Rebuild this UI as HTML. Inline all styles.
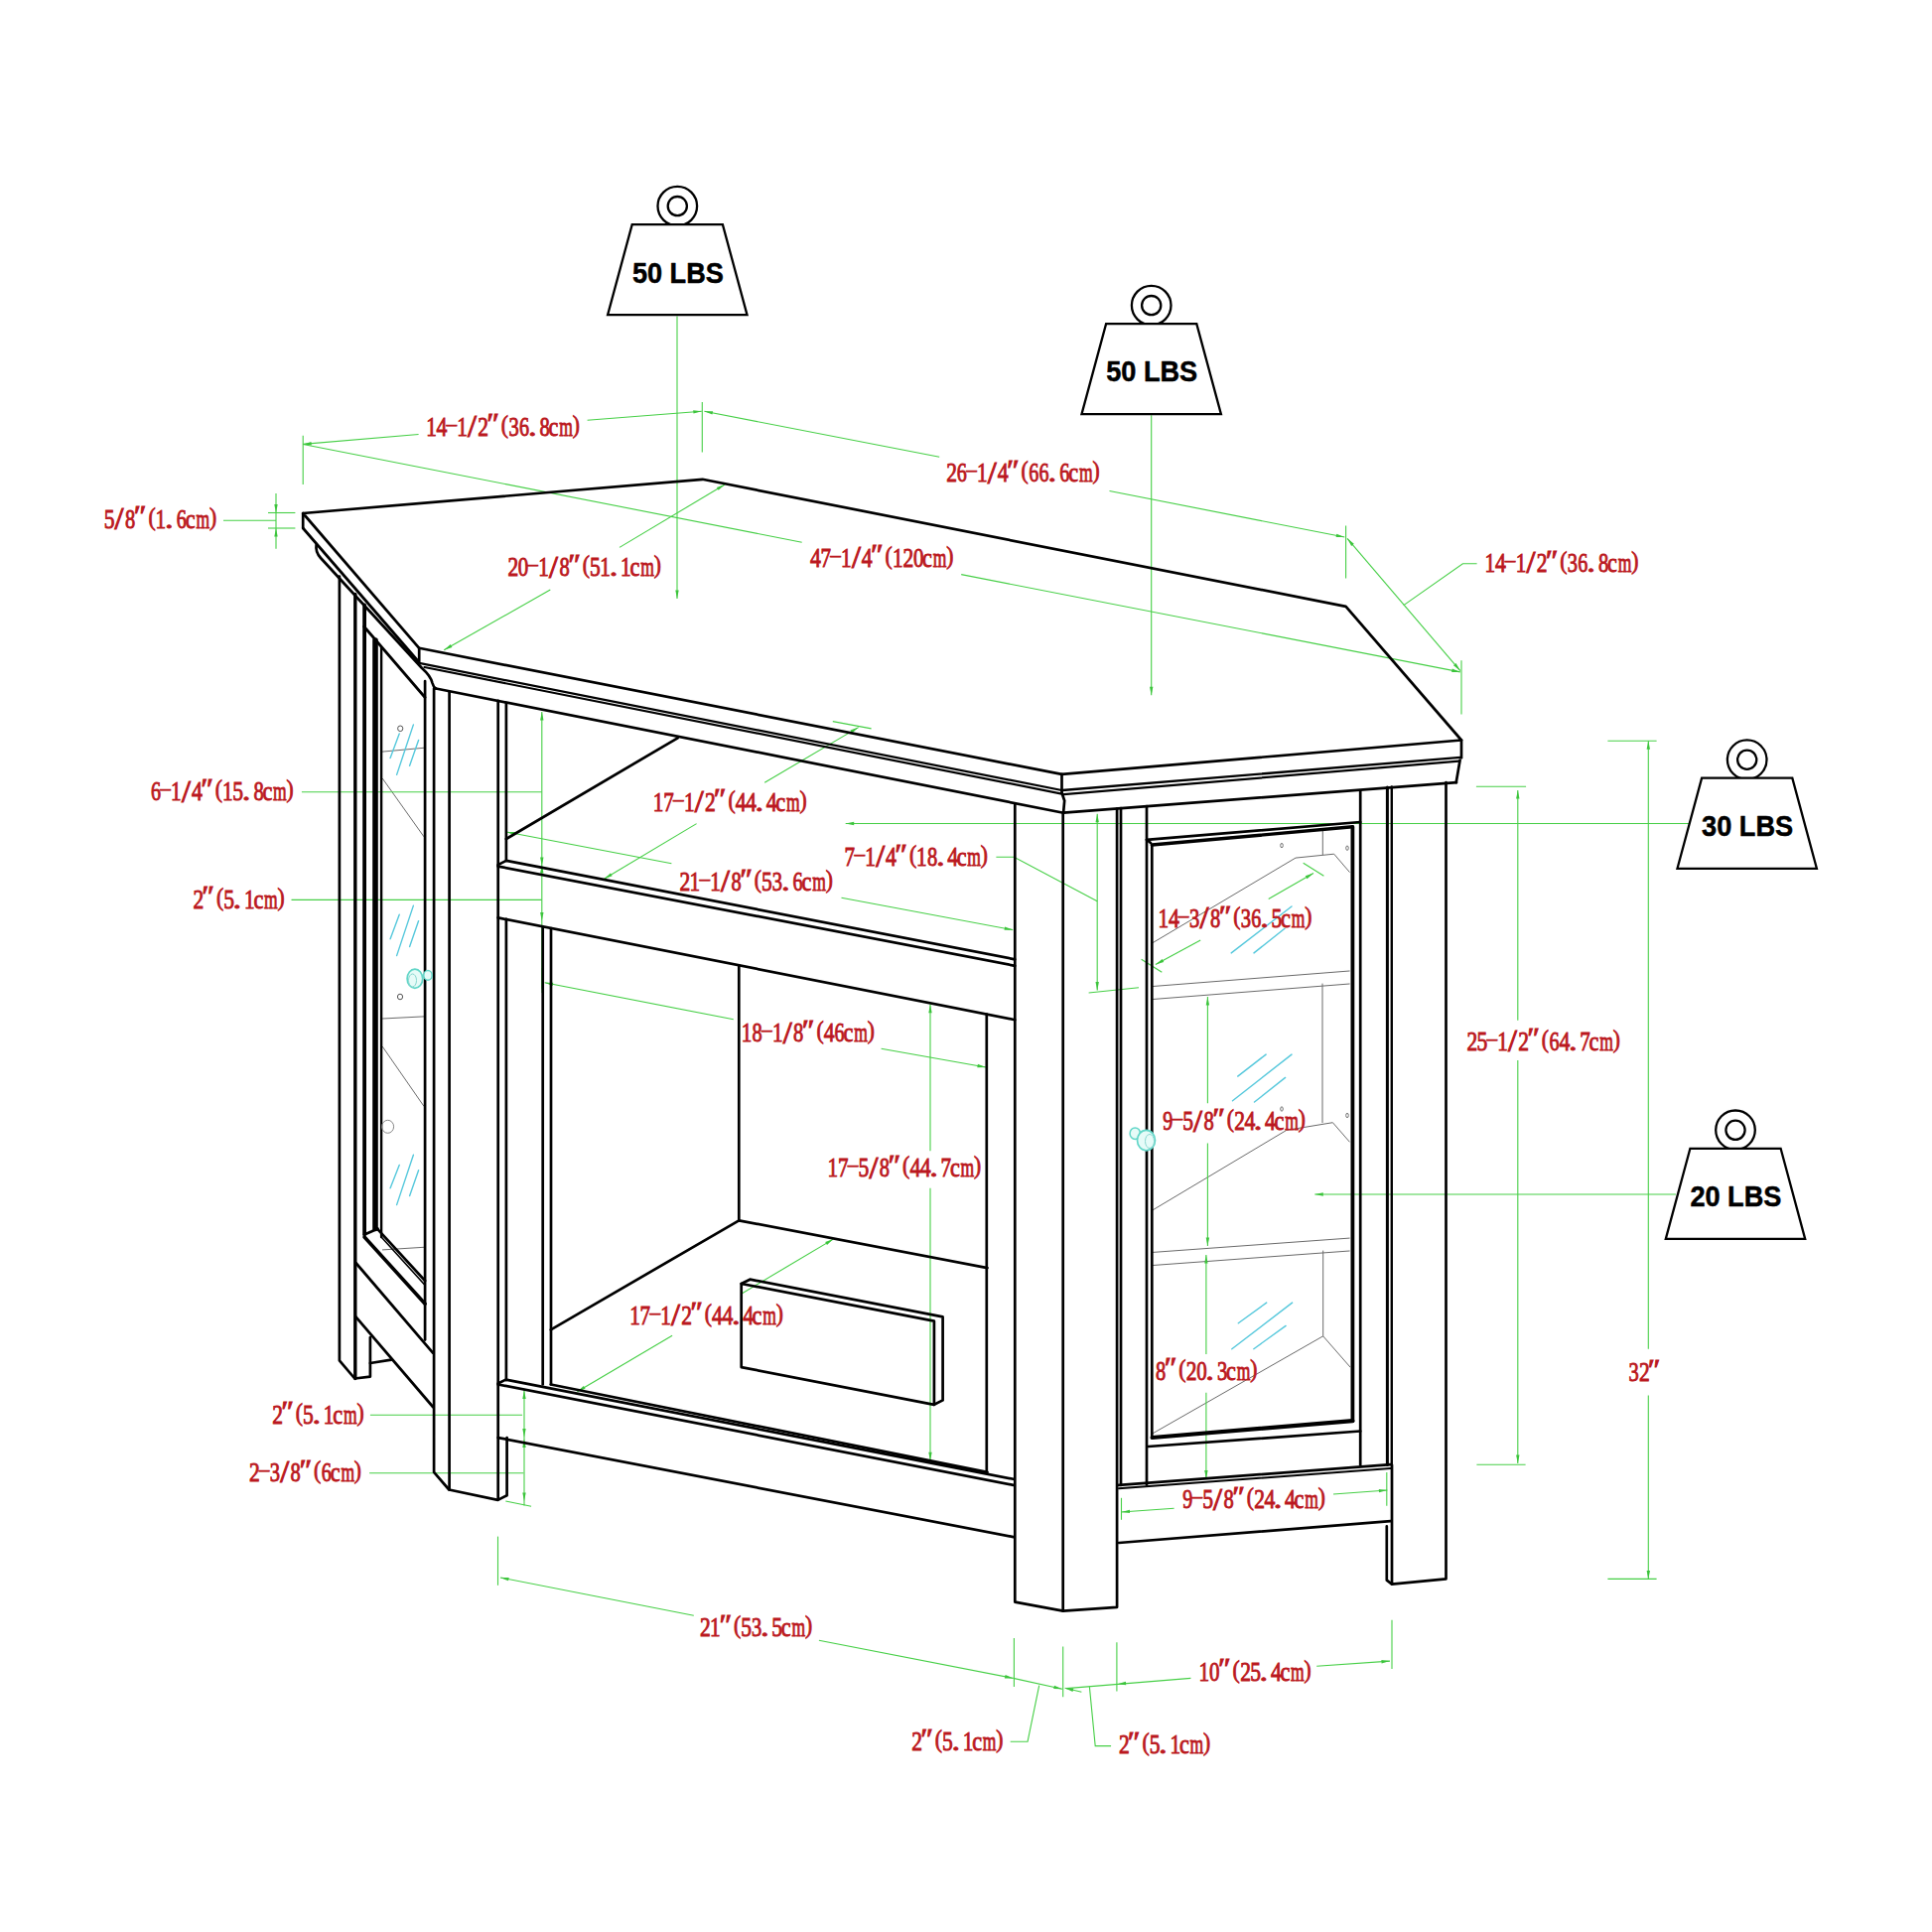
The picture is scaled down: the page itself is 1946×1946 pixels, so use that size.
<!DOCTYPE html><html><head><meta charset="utf-8"><style>html,body{margin:0;padding:0;background:#fff;overflow:hidden}svg{display:block}</style></head><body>
<svg width="1946" height="1946" viewBox="0 0 1946 1946">
<rect width="1946" height="1946" fill="#fff"/>
<g fill="none" stroke="#6a6a6a" stroke-linecap="round" stroke-linejoin="round">
<path d="M1161.3 993.5 L1359.2 978" stroke-width="1"/>
<path d="M1161.3 1006.5 L1359.2 991" stroke-width="1"/>
<path d="M1332.3 837.4 L1332.3 860.7" stroke-width="1"/>
<path d="M1161.3 949.5 L1305 864.1 L1343.7 860.2 L1359.2 878.3" stroke-width="1"/>
<path d="M1332 991 L1332 1130.7" stroke-width="1"/>
<path d="M1161.3 1218.7 L1295.8 1138.4 L1342.4 1130.7 L1359.2 1150" stroke-width="1"/>
<path d="M1161.3 1261.4 L1359.2 1247.1" stroke-width="1"/>
<path d="M1161.3 1274.5 L1359.2 1260" stroke-width="1"/>
<path d="M1332.7 1260 L1332.7 1345.8 L1359.8 1376.8" stroke-width="1"/>
<path d="M1332.7 1345.8 L1160.6 1444.1" stroke-width="1"/>
<path d="M385.4 757.1 L426.8 753.3" stroke-width="1"/>
<path d="M385.4 784.3 L426.8 842.5" stroke-width="1"/>
<path d="M385.4 1026 L426.8 1023.9" stroke-width="1"/>
<path d="M385.4 1054.4 L426.8 1114" stroke-width="1"/>
<path d="M385.4 1258.9 L426.8 1256.3" stroke-width="1"/>
</g>
<g fill="none" stroke="#55c8dc" stroke-linecap="round" stroke-linejoin="round">
<path d="M393.1 763.6 L402.2 739" stroke-width="1.4"/>
<path d="M399.6 780.4 L416.4 729.9" stroke-width="1.4"/>
<path d="M412.6 771.3 L421.6 745.4" stroke-width="1.4"/>
<path d="M393.1 945.8 L402.2 921.2" stroke-width="1.4"/>
<path d="M399.6 962.6 L416.4 912.1" stroke-width="1.4"/>
<path d="M412.6 953.5 L421.6 927.6" stroke-width="1.4"/>
<path d="M393.1 1196.8 L402.2 1173.5" stroke-width="1.4"/>
<path d="M399.6 1213.6 L416.4 1163.2" stroke-width="1.4"/>
<path d="M412.6 1204.6 L421.6 1178.7" stroke-width="1.4"/>
<path d="M1240.2 959.9 L1301 913" stroke-width="1.4"/>
<path d="M1263 959.9 L1294 935.3" stroke-width="1.4"/>
<path d="M1246.7 1084.1 L1275.1 1062.1" stroke-width="1.4"/>
<path d="M1241.5 1108.7 L1301 1062.1" stroke-width="1.4"/>
<path d="M1263.5 1110 L1294.6 1085.4" stroke-width="1.4"/>
<path d="M1247.3 1332.8 L1275.7 1312.1" stroke-width="1.4"/>
<path d="M1240.8 1358.7 L1301.6 1312.1" stroke-width="1.4"/>
<path d="M1262.8 1358.7 L1295.1 1335.4" stroke-width="1.4"/>
</g>
<g fill="none" stroke="#46cf46" stroke-linecap="butt" stroke-linejoin="miter">
<path d="M682 318.5 L682 603" stroke-width="1.1"/>
<path d="M1159.7 418.2 L1159.7 700.2" stroke-width="1.1"/>
<path d="M851.7 829.5 L1701 829.5" stroke-width="1.1"/>
<path d="M1324.3 1203 L1688 1203" stroke-width="1.1"/>
<path d="M305.2 438.8 L305.2 488" stroke-width="1.1"/>
<path d="M707.3 405 L707.3 455.6" stroke-width="1.1"/>
<path d="M1355.6 529.4 L1355.6 582.5" stroke-width="1.1"/>
<path d="M1472 665.3 L1472 719.6" stroke-width="1.1"/>
<path d="M305.2 447.4 L421.6 437.5" stroke-width="1.1"/>
<path d="M591.6 423.3 L706.8 414.2" stroke-width="1.1"/>
<path d="M709.4 414.2 L946.2 460.3" stroke-width="1.1"/>
<path d="M1117.5 494.5 L1354.3 541" stroke-width="1.1"/>
<path d="M305.2 447.5 L807.7 546.2" stroke-width="1.1"/>
<path d="M968.2 578.6 L1470.8 676.9" stroke-width="1.1"/>
<path d="M1357 542.3 L1470.8 675.6" stroke-width="1.1"/>
<path d="M1413.8 609.6 L1473.4 567.7 L1487.6 567.7" stroke-width="1.1"/>
<path d="M624 551.4 L730.1 488" stroke-width="1.1"/>
<path d="M554.3 594.1 L447.2 654.7" stroke-width="1.1"/>
<path d="M225 524.2 L278 524.2" stroke-width="1.1"/>
<path d="M270 516.5 L297.4 516.5" stroke-width="1.1"/>
<path d="M270 532 L297.4 532" stroke-width="1.1"/>
<path d="M278 497 L278 552.7" stroke-width="1.1"/>
<path d="M303.9 797.8 L545.8 797.8" stroke-width="1.1"/>
<path d="M545.8 717 L545.8 996.2" stroke-width="1.1"/>
<path d="M293.5 906.4 L545.8 906.4" stroke-width="1.1"/>
<path d="M770.2 788.2 L864.7 732.6" stroke-width="1.1"/>
<path d="M838.8 726.6 L877.6 733.9" stroke-width="1.1"/>
<path d="M701.6 829.6 L608.5 885.2" stroke-width="1.1"/>
<path d="M501.7 828 L501.7 863.6" stroke-width="1.1"/>
<path d="M510.2 838 L676.4 869.8" stroke-width="1.1"/>
<path d="M847.5 904.3 L1020.2 936.6" stroke-width="1.1"/>
<path d="M1022.3 930 L1022.3 965" stroke-width="1.1"/>
<path d="M548.6 989.8 L738.8 1026.8" stroke-width="1.1"/>
<path d="M887.6 1056.3 L993 1075" stroke-width="1.1"/>
<path d="M993.8 1035 L993.8 1085.4" stroke-width="1.1"/>
<path d="M546 975 L546 1000" stroke-width="1.1"/>
<path d="M1105.2 819.7 L1105.2 997.4" stroke-width="1.1"/>
<path d="M1096.6 1000 L1147 994.8" stroke-width="1.1"/>
<path d="M1003.4 863.3 L1021.4 863.3 L1105.2 907.7" stroke-width="1.1"/>
<path d="M1277.7 905.5 L1323 879.6" stroke-width="1.1"/>
<path d="M1312.7 869.3 L1333.4 882.2" stroke-width="1.1"/>
<path d="M1209.2 946.9 L1163.9 971.5" stroke-width="1.1"/>
<path d="M1149.6 966.3 L1170.3 979.3" stroke-width="1.1"/>
<path d="M1216.4 1003.9 L1216.4 1111.3" stroke-width="1.1"/>
<path d="M1216.4 1151.4 L1216.4 1254.9" stroke-width="1.1"/>
<path d="M937 1011.7 L937 1159.3" stroke-width="1.1"/>
<path d="M937 1196.8 L937 1471.3" stroke-width="1.1"/>
<path d="M746.7 1303.2 L839.4 1248.1" stroke-width="1.1"/>
<path d="M677.1 1345.2 L581.4 1401.7" stroke-width="1.1"/>
<path d="M1214.9 1264 L1214.9 1363.9" stroke-width="1.1"/>
<path d="M1214.9 1402.7 L1214.9 1489.4" stroke-width="1.1"/>
<path d="M372.9 1425.2 L526.1 1425.2" stroke-width="1.1"/>
<path d="M372.1 1483.7 L527.4 1483.7" stroke-width="1.1"/>
<path d="M528 1400 L528 1516.6" stroke-width="1.1"/>
<path d="M509.3 1512 L535.1 1517.3" stroke-width="1.1"/>
<path d="M1182.6 1519.2 L1129.5 1523" stroke-width="1.1"/>
<path d="M1129.5 1508.8 L1129.5 1530.8" stroke-width="1.1"/>
<path d="M1343 1505 L1397.4 1501" stroke-width="1.1"/>
<path d="M1396.8 1483 L1396.8 1516.7" stroke-width="1.1"/>
<path d="M501.5 1547.6 L501.5 1596.8" stroke-width="1.1"/>
<path d="M504 1589 L698.8 1627.2" stroke-width="1.1"/>
<path d="M824.9 1652.2 L1020.6 1690.4" stroke-width="1.1"/>
<path d="M1021.4 1649.9 L1021.4 1699.1" stroke-width="1.1"/>
<path d="M1020.6 1690.4 L1069.9 1701.2" stroke-width="1.1"/>
<path d="M1070.7 1658.6 L1070.7 1709.3" stroke-width="1.1"/>
<path d="M1072.6 1700.3 L1089.4 1704.2" stroke-width="1.1"/>
<path d="M1074.2 1700.6 L1199.4 1690.4" stroke-width="1.1"/>
<path d="M1124.9 1654.2 L1124.9 1703.5" stroke-width="1.1"/>
<path d="M1326.2 1678.3 L1400 1673.1" stroke-width="1.1"/>
<path d="M1402 1631.7 L1402 1680.9" stroke-width="1.1"/>
<path d="M1017.7 1754.2 L1035.1 1754.2 L1046.7 1697.7" stroke-width="1.1"/>
<path d="M1119.1 1758.6 L1103.2 1758.6 L1097.4 1699.1" stroke-width="1.1"/>
<path d="M1528.8 796 L1528.8 1027.8" stroke-width="1.1"/>
<path d="M1528.8 1068 L1528.8 1474" stroke-width="1.1"/>
<path d="M1486.9 792.3 L1537.1 792.3" stroke-width="1.1"/>
<path d="M1487.4 1475.3 L1536.6 1475.3" stroke-width="1.1"/>
<path d="M1660.3 746.3 L1660.3 1358.8" stroke-width="1.1"/>
<path d="M1660.3 1405.4 L1660.3 1590.4" stroke-width="1.1"/>
<path d="M1619.4 746.3 L1668.6 746.3" stroke-width="1.1"/>
<path d="M1619.4 1590.4 L1668.6 1590.4" stroke-width="1.1"/>
</g>
<g fill="#3cc43c" stroke="none">
<path d="M682 603 L683.7 594.5 L680.3 594.5 Z"/>
<path d="M1159.7 700.2 L1161.4 691.7 L1158 691.7 Z"/>
<path d="M851.7 829.5 L860.2 831.2 L860.2 827.8 Z"/>
<path d="M1324.3 1203 L1332.8 1204.7 L1332.8 1201.3 Z"/>
<path d="M305.2 447.4 L313.8 448.4 L313.5 445 Z"/>
<path d="M706.8 414.2 L698.2 413.2 L698.5 416.6 Z"/>
<path d="M709.4 414.2 L717.4 417.5 L718.1 414.2 Z"/>
<path d="M1354.3 541 L1346.3 537.7 L1345.6 541 Z"/>
<path d="M1470.8 676.9 L1462.8 673.6 L1462.1 676.9 Z"/>
<path d="M1357 542.3 L1361.2 549.9 L1363.8 547.7 Z"/>
<path d="M1470.8 675.6 L1466.6 668 L1464 670.2 Z"/>
<path d="M730.1 488 L721.9 490.9 L723.7 493.8 Z"/>
<path d="M447.2 654.7 L455.4 652 L453.8 649 Z"/>
<path d="M278 516.5 L279.7 508 L276.3 508 Z"/>
<path d="M278 532 L276.3 540.5 L279.7 540.5 Z"/>
<path d="M545.8 717 L544.1 725.5 L547.5 725.5 Z"/>
<path d="M545.8 872 L547.5 863.5 L544.1 863.5 Z"/>
<path d="M545.8 871 L544.1 879.5 L547.5 879.5 Z"/>
<path d="M545.8 927.6 L547.5 919.1 L544.1 919.1 Z"/>
<path d="M864.7 732.6 L856.5 735.4 L858.2 738.4 Z"/>
<path d="M608.5 885.2 L616.7 882.3 L614.9 879.4 Z"/>
<path d="M510.2 838 L518.2 841.3 L518.9 837.9 Z"/>
<path d="M1020.2 936.6 L1012.2 933.4 L1011.5 936.7 Z"/>
<path d="M548.6 989.8 L556.6 993.1 L557.3 989.8 Z"/>
<path d="M993 1075 L984.9 1071.8 L984.3 1075.2 Z"/>
<path d="M1105.2 819.7 L1103.5 828.2 L1106.9 828.2 Z"/>
<path d="M1105.2 997.4 L1106.9 988.9 L1103.5 988.9 Z"/>
<path d="M1323 879.6 L1314.8 882.3 L1316.5 885.3 Z"/>
<path d="M1163.9 971.5 L1172.2 968.9 L1170.6 965.9 Z"/>
<path d="M1216.4 1003.9 L1214.7 1012.4 L1218.1 1012.4 Z"/>
<path d="M1216.4 1254.9 L1218.1 1246.4 L1214.7 1246.4 Z"/>
<path d="M937 1011.7 L935.3 1020.2 L938.7 1020.2 Z"/>
<path d="M937 1471.3 L938.7 1462.8 L935.3 1462.8 Z"/>
<path d="M839.4 1248.1 L831.2 1251 L833 1253.9 Z"/>
<path d="M581.4 1401.7 L589.6 1398.8 L587.9 1395.9 Z"/>
<path d="M1214.9 1264 L1213.2 1272.5 L1216.6 1272.5 Z"/>
<path d="M1214.9 1489.4 L1216.6 1480.9 L1213.2 1480.9 Z"/>
<path d="M528 1400.5 L526.3 1409 L529.7 1409 Z"/>
<path d="M528 1447.5 L529.7 1439 L526.3 1439 Z"/>
<path d="M528 1449.5 L526.3 1458 L529.7 1458 Z"/>
<path d="M528 1512 L529.7 1503.5 L526.3 1503.5 Z"/>
<path d="M1129.5 1523 L1138.1 1524.1 L1137.9 1520.7 Z"/>
<path d="M1397.4 1501 L1388.8 1499.9 L1389 1503.3 Z"/>
<path d="M504 1589 L512 1592.3 L512.7 1589 Z"/>
<path d="M1020.6 1690.4 L1012.6 1687.1 L1011.9 1690.4 Z"/>
<path d="M1069.9 1701.2 L1062 1697.7 L1061.2 1701 Z"/>
<path d="M1072.6 1700.3 L1080.5 1703.9 L1081.3 1700.6 Z"/>
<path d="M1125.6 1696.2 L1134.2 1697.2 L1133.9 1693.8 Z"/>
<path d="M1400 1673.1 L1391.4 1672 L1391.6 1675.4 Z"/>
<path d="M1528.8 796 L1527.1 804.5 L1530.5 804.5 Z"/>
<path d="M1528.8 1474 L1530.5 1465.5 L1527.1 1465.5 Z"/>
<path d="M1660.3 746.3 L1658.6 754.8 L1662 754.8 Z"/>
<path d="M1660.3 1590.4 L1662 1581.9 L1658.6 1581.9 Z"/>
</g>
<g fill="none" stroke="#000" stroke-linecap="round" stroke-linejoin="round">
<path d="M305.2 517 L707.6 482.8 L1355.6 610.9 L1472 745.5 L1069.5 779.9 L422.2 652.8 L305.2 517" stroke-width="2.7"/>
<path d="M305.2 517 L305.2 532" stroke-width="2.7"/>
<path d="M305.2 532 L421.6 666.5" stroke-width="2.7"/>
<path d="M422.2 652.8 L422.2 667.5" stroke-width="2.7"/>
<path d="M423.5 668.2 L1069.5 796" stroke-width="2.2"/>
<path d="M427.5 672 L1069.5 799.6" stroke-width="2.2"/>
<path d="M1069.5 779.9 L1069.5 798.5" stroke-width="2.7"/>
<path d="M1070 796 L1471 762.9" stroke-width="2.3"/>
<path d="M1071.5 800.2 L1469.5 766.6" stroke-width="2.2"/>
<path d="M1472 745.5 L1472 763.3" stroke-width="2.7"/>
<path d="M318.6 549 Q317.5 556 323 562 L425 673 Q434 681 435.5 688 Q436.5 692 439 693.5" stroke-width="2.7"/>
<path d="M439 693.5 L1071.1 818.7" stroke-width="2.7"/>
<path d="M1069.5 798.5 L1072.2 806.5 L1071.1 818.7" stroke-width="2.7"/>
<path d="M1071.1 818.7 L1467 788.2" stroke-width="2.7"/>
<path d="M1470.6 765.5 L1466.7 788.2" stroke-width="2.7"/>
<path d="M341.9 580.5 L341.9 1370.3 L357.3 1388.5 L372.9 1386.6 L372.9 1347" stroke-width="2.7"/>
<path d="M357.8 598.5 L357.8 1388.5" stroke-width="3.4"/>
<path d="M372.9 1373 L394.1 1369.6" stroke-width="2.7"/>
<path d="M367.1 609.5 L367.1 1243.5" stroke-width="3.8"/>
<path d="M367.1 1243.5 L374 1240.5 L380.5 1237.5" stroke-width="2.7"/>
<path d="M378 645 L378 1237.5" stroke-width="5.6"/>
<path d="M384.1 652.6 L384.1 1246" stroke-width="2.4"/>
<path d="M428.1 686 L428.1 1349.6" stroke-width="2.7"/>
<path d="M437.1 693.3 L437.1 1482.9 L452.3 1500.5 L501.5 1510.9 L510.6 1506.2 L510.6 1448" stroke-width="2.7"/>
<path d="M452.6 697.5 L452.6 1500.5" stroke-width="2.7"/>
<path d="M366.6 631 L428.1 702.5" stroke-width="2.7"/>
<path d="M358.4 1272 L436 1362.6" stroke-width="2.7"/>
<path d="M358.4 1326.3 L436 1417" stroke-width="2.7"/>
<path d="M367.1 1246 L428.1 1313.2" stroke-width="3.6"/>
<path d="M380.4 1238.2 L428.1 1290" stroke-width="2.7"/>
<path d="M384.1 1246 L428.1 1294.5" stroke-width="1.6"/>
<path d="M501.7 705.9 L501.7 1510.4" stroke-width="2.7"/>
<path d="M509.9 708.5 L509.9 866.9" stroke-width="2.7"/>
<path d="M509.9 845 L682.6 743.3" stroke-width="2.7"/>
<path d="M501.6 871.1 L509.9 866.9 L1022.3 966.3" stroke-width="2.7"/>
<path d="M501.6 872.6 L1022.3 972.8" stroke-width="2.7"/>
<path d="M501.6 924.4 L1022.3 1027.2" stroke-width="2.7"/>
<path d="M509.9 925.9 L509.9 1390.1" stroke-width="2.7"/>
<path d="M546.7 933.5 L546.7 1394.5" stroke-width="2.7"/>
<path d="M555 935 L555 1394.5" stroke-width="2.7"/>
<path d="M744.3 972.5 L744.3 1229.3" stroke-width="2.7"/>
<path d="M554.8 1339.4 L744.3 1229.3 L994.5 1277.1" stroke-width="2.7"/>
<path d="M993.8 1021.5 L993.8 1482.9" stroke-width="2.7"/>
<path d="M501.7 1393.5 L509.5 1389.6 L1020.6 1489.8" stroke-width="2.7"/>
<path d="M501.7 1394.5 L1020.6 1495.8" stroke-width="2.7"/>
<path d="M554.8 1394.5 L994.5 1482.9" stroke-width="2.7"/>
<path d="M501.7 1448.1 L1020.6 1548.1" stroke-width="2.7"/>
<path d="M746.7 1293 L755.4 1288.7 L949.6 1326.4 L949.6 1410.4 L940.9 1414.8" stroke-width="2.7"/>
<path d="M746.7 1293 L940.9 1330.7 L940.9 1414.8 L746.7 1377.1 L746.7 1293" stroke-width="2.7"/>
<path d="M1022.3 810.5 L1022.3 1613.6 L1070.8 1622.7 L1125.1 1618.8 L1125.1 814.5" stroke-width="2.7"/>
<path d="M1070.7 818.7 L1070.7 1622.7" stroke-width="2.7"/>
<path d="M1129 814 L1129 1495.9" stroke-width="2.7"/>
<path d="M1155 812.2 L1155 1495.5" stroke-width="2.7"/>
<path d="M1155 845.8 L1159 849" stroke-width="2.7"/>
<path d="M1155 845.8 L1370.2 828" stroke-width="2.7"/>
<path d="M1160.3 851 L1362.4 832.8" stroke-width="3.4"/>
<path d="M1160.3 851 L1160.3 1446.5" stroke-width="2.7"/>
<path d="M1362.4 832.8 L1362.4 1431.2" stroke-width="3.8"/>
<path d="M1370.2 796.5 L1370.2 1475.5" stroke-width="2.7"/>
<path d="M1160.6 1448 L1362.4 1431.2" stroke-width="4.2"/>
<path d="M1156.7 1457 L1370.2 1441.5" stroke-width="2.7"/>
<path d="M1397.4 793 L1397.4 1475.5" stroke-width="3"/>
<path d="M1401.8 792.5 L1401.8 1475.5" stroke-width="2.4"/>
<path d="M1456.5 788.2 L1456.5 1590.3 L1402 1595.6 L1402 1475.5" stroke-width="2.7"/>
<path d="M1396.8 1537.4 L1396.8 1591.7 L1402 1595.6" stroke-width="2.7"/>
<path d="M1127 1495.9 L1400.7 1475.2" stroke-width="2.7"/>
<path d="M1127 1499.3 L1400.7 1479" stroke-width="2"/>
<path d="M1127 1554 L1400.7 1532.1" stroke-width="2.7"/>
</g>
<ellipse cx="403.2" cy="733.8" rx="2.6" ry="2.8" stroke="#555" stroke-width="1" fill="none"/>
<ellipse cx="403" cy="1004" rx="2.6" ry="2.8" stroke="#555" stroke-width="1" fill="none"/>
<ellipse cx="390.6" cy="1134.8" rx="6" ry="6.5" stroke="#888" stroke-width="1" fill="none"/>
<ellipse cx="1291" cy="851.6" rx="1.3" ry="2.2" stroke="#666" stroke-width="0.9" fill="none"/>
<ellipse cx="1357" cy="854.2" rx="1.3" ry="2.2" stroke="#666" stroke-width="0.9" fill="none"/>
<ellipse cx="1291" cy="1117" rx="1.3" ry="2.2" stroke="#666" stroke-width="0.9" fill="none"/>
<ellipse cx="1357" cy="1123.5" rx="1.3" ry="2.2" stroke="#666" stroke-width="0.9" fill="none"/>
<ellipse cx="431" cy="982.4" rx="4.2" ry="4.8" stroke="#62d6c8" stroke-width="1.5" fill="#e6fbf8"/>
<ellipse cx="417.9" cy="985.8" rx="7.8" ry="9.6" stroke="#62d6c8" stroke-width="1.7" fill="#e6fbf8"/>
<ellipse cx="415.5" cy="987.5" rx="4" ry="6.5" stroke="#8ad8d0" stroke-width="1" fill="none"/>
<ellipse cx="1143.3" cy="1141.7" rx="5.2" ry="5.8" stroke="#62d6c8" stroke-width="1.5" fill="#e6fbf8"/>
<ellipse cx="1154.5" cy="1148.6" rx="9" ry="10.2" stroke="#62d6c8" stroke-width="1.7" fill="#e6fbf8"/>
<ellipse cx="1158" cy="1149.5" rx="4.5" ry="7" stroke="#8ad8d0" stroke-width="1" fill="none"/>
<g fill="none" stroke="#000" stroke-width="2.3" stroke-linejoin="miter">
<circle cx="682.3" cy="207.6" r="19.8"/>
<circle cx="682.3" cy="207.6" r="9.6"/>
<path fill="#fff" d="M636.7 226.1 L727.9 226.1 L752.5 317.2 L612.1 317.2 Z"/>
</g>
<text x="636.9" y="284.7" font-family="Liberation Sans, sans-serif" font-weight="bold" font-size="30" fill="#000" stroke="#000" stroke-width="0.5" stroke-linejoin="round" textLength="92" lengthAdjust="spacingAndGlyphs">50 LBS</text>
<g fill="none" stroke="#000" stroke-width="2.3" stroke-linejoin="miter">
<circle cx="1159.7" cy="307.6" r="19.8"/>
<circle cx="1159.7" cy="307.6" r="9.6"/>
<path fill="#fff" d="M1114.1 326.1 L1205.3 326.1 L1229.9 417.2 L1089.5 417.2 Z"/>
</g>
<text x="1114.2" y="384.1" font-family="Liberation Sans, sans-serif" font-weight="bold" font-size="30" fill="#000" stroke="#000" stroke-width="0.5" stroke-linejoin="round" textLength="92" lengthAdjust="spacingAndGlyphs">50 LBS</text>
<g fill="none" stroke="#000" stroke-width="2.3" stroke-linejoin="miter">
<circle cx="1759.7" cy="765.2" r="19.8"/>
<circle cx="1759.7" cy="765.2" r="9.6"/>
<path fill="#fff" d="M1714.1 783.7 L1805.3 783.7 L1829.9 874.8 L1689.5 874.8 Z"/>
</g>
<text x="1714.1" y="841.7" font-family="Liberation Sans, sans-serif" font-weight="bold" font-size="30" fill="#000" stroke="#000" stroke-width="0.5" stroke-linejoin="round" textLength="92" lengthAdjust="spacingAndGlyphs">30 LBS</text>
<g fill="none" stroke="#000" stroke-width="2.3" stroke-linejoin="miter">
<circle cx="1748" cy="1138.3" r="19.8"/>
<circle cx="1748" cy="1138.3" r="9.6"/>
<path fill="#fff" d="M1702.4 1156.8 L1793.6 1156.8 L1818.2 1247.9 L1677.8 1247.9 Z"/>
</g>
<text x="1702.4" y="1215.4" font-family="Liberation Sans, sans-serif" font-weight="bold" font-size="30" fill="#000" stroke="#000" stroke-width="0.5" stroke-linejoin="round" textLength="92" lengthAdjust="spacingAndGlyphs">20 LBS</text>
<g fill="#bb1820" stroke="#bb1820" stroke-width="0.95" font-family="Liberation Serif, serif" font-size="28">
<g transform="translate(429 438.8)"><text transform="translate(0.2 0) scale(0.755 1.000)">1</text><text transform="translate(10.6 0) scale(0.775 1.000)">4</text><text transform="translate(19.2 -6) scale(1.401 0.620)">-</text><text transform="translate(31.3 0) scale(0.755 1.000)">1</text><text transform="translate(42.1 1.4) scale(1.148 1.150)">/</text><text transform="translate(52.3 0) scale(0.767 1.000)">2</text><text transform="translate(59.5 -2.4) scale(1.071 1.080)" font-style="italic">″</text><text transform="translate(75.8 -3) scale(0.769 0.920)">(</text><text transform="translate(83.4 0) scale(0.732 1.000)">3</text><text transform="translate(93.9 0) scale(0.714 1.000)">6</text><text transform="translate(102.9 0) scale(1.234 1.000)">.</text><text transform="translate(114.6 0) scale(0.731 1.000)">8</text><text transform="translate(123.6 0) scale(0.792 1.000)">c</text><text transform="translate(134.3 0) scale(0.627 1.000)">m</text><text transform="translate(147.8 -3) scale(0.769 0.920)">)</text></g>
<g transform="translate(952.7 485.4)"><text transform="translate(0.5 0) scale(0.767 1.000)">2</text><text transform="translate(11 0) scale(0.714 1.000)">6</text><text transform="translate(19.2 -6) scale(1.401 0.620)">-</text><text transform="translate(31.3 0) scale(0.755 1.000)">1</text><text transform="translate(42.1 1.4) scale(1.148 1.150)">/</text><text transform="translate(52 0) scale(0.775 1.000)">4</text><text transform="translate(59.5 -2.4) scale(1.071 1.080)" font-style="italic">″</text><text transform="translate(75.8 -3) scale(0.769 0.920)">(</text><text transform="translate(83.6 0) scale(0.714 1.000)">6</text><text transform="translate(93.9 0) scale(0.714 1.000)">6</text><text transform="translate(102.9 0) scale(1.234 1.000)">.</text><text transform="translate(114.6 0) scale(0.714 1.000)">6</text><text transform="translate(123.6 0) scale(0.792 1.000)">c</text><text transform="translate(134.3 0) scale(0.627 1.000)">m</text><text transform="translate(147.8 -3) scale(0.769 0.920)">)</text></g>
<g transform="translate(104.6 531.5)"><text transform="translate(0.2 0) scale(0.768 1.000)">5</text><text transform="translate(11 1.4) scale(1.148 1.150)">/</text><text transform="translate(21.4 0) scale(0.731 1.000)">8</text><text transform="translate(28.5 -2.4) scale(1.071 1.080)" font-style="italic">″</text><text transform="translate(44.8 -3) scale(0.769 0.920)">(</text><text transform="translate(52 0) scale(0.755 1.000)">1</text><text transform="translate(61.4 0) scale(1.234 1.000)">.</text><text transform="translate(73.2 0) scale(0.714 1.000)">6</text><text transform="translate(82.2 0) scale(0.792 1.000)">c</text><text transform="translate(92.9 0) scale(0.627 1.000)">m</text><text transform="translate(106.3 -3) scale(0.769 0.920)">)</text></g>
<g transform="translate(510.9 580.1)"><text transform="translate(0.5 0) scale(0.767 1.000)">2</text><text transform="translate(10.9 0) scale(0.748 1.000)">0</text><text transform="translate(19.2 -6) scale(1.401 0.620)">-</text><text transform="translate(31.3 0) scale(0.755 1.000)">1</text><text transform="translate(42.1 1.4) scale(1.148 1.150)">/</text><text transform="translate(52.5 0) scale(0.731 1.000)">8</text><text transform="translate(59.5 -2.4) scale(1.071 1.080)" font-style="italic">″</text><text transform="translate(75.8 -3) scale(0.769 0.920)">(</text><text transform="translate(83.1 0) scale(0.768 1.000)">5</text><text transform="translate(93.4 0) scale(0.755 1.000)">1</text><text transform="translate(102.9 0) scale(1.234 1.000)">.</text><text transform="translate(114.1 0) scale(0.755 1.000)">1</text><text transform="translate(123.6 0) scale(0.792 1.000)">c</text><text transform="translate(134.3 0) scale(0.627 1.000)">m</text><text transform="translate(147.8 -3) scale(0.769 0.920)">)</text></g>
<g transform="translate(815.8 570.8)"><text transform="translate(0.2 0) scale(0.775 1.000)">4</text><text transform="translate(10.6 0) scale(0.749 1.000)">7</text><text transform="translate(19.2 -6) scale(1.401 0.620)">-</text><text transform="translate(31.3 0) scale(0.755 1.000)">1</text><text transform="translate(42.1 1.4) scale(1.148 1.150)">/</text><text transform="translate(52 0) scale(0.775 1.000)">4</text><text transform="translate(59.5 -2.4) scale(1.071 1.080)" font-style="italic">″</text><text transform="translate(75.8 -3) scale(0.769 0.920)">(</text><text transform="translate(83.1 0) scale(0.755 1.000)">1</text><text transform="translate(93.8 0) scale(0.767 1.000)">2</text><text transform="translate(104.1 0) scale(0.748 1.000)">0</text><text transform="translate(113.3 0) scale(0.792 1.000)">c</text><text transform="translate(123.9 0) scale(0.627 1.000)">m</text><text transform="translate(137.4 -3) scale(0.769 0.920)">)</text></g>
<g transform="translate(1495.4 576)"><text transform="translate(0.2 0) scale(0.755 1.000)">1</text><text transform="translate(10.6 0) scale(0.775 1.000)">4</text><text transform="translate(19.2 -6) scale(1.401 0.620)">-</text><text transform="translate(31.3 0) scale(0.755 1.000)">1</text><text transform="translate(42.1 1.4) scale(1.148 1.150)">/</text><text transform="translate(52.3 0) scale(0.767 1.000)">2</text><text transform="translate(59.5 -2.4) scale(1.071 1.080)" font-style="italic">″</text><text transform="translate(75.8 -3) scale(0.769 0.920)">(</text><text transform="translate(83.4 0) scale(0.732 1.000)">3</text><text transform="translate(93.9 0) scale(0.714 1.000)">6</text><text transform="translate(102.9 0) scale(1.234 1.000)">.</text><text transform="translate(114.6 0) scale(0.731 1.000)">8</text><text transform="translate(123.6 0) scale(0.792 1.000)">c</text><text transform="translate(134.3 0) scale(0.627 1.000)">m</text><text transform="translate(147.8 -3) scale(0.769 0.920)">)</text></g>
<g transform="translate(151.2 806.3)"><text transform="translate(0.7 0) scale(0.714 1.000)">6</text><text transform="translate(8.9 -6) scale(1.401 0.620)">-</text><text transform="translate(20.9 0) scale(0.755 1.000)">1</text><text transform="translate(31.8 1.4) scale(1.148 1.150)">/</text><text transform="translate(41.7 0) scale(0.775 1.000)">4</text><text transform="translate(49.2 -2.4) scale(1.071 1.080)" font-style="italic">″</text><text transform="translate(65.5 -3) scale(0.769 0.920)">(</text><text transform="translate(72.7 0) scale(0.755 1.000)">1</text><text transform="translate(83.1 0) scale(0.768 1.000)">5</text><text transform="translate(92.5 0) scale(1.234 1.000)">.</text><text transform="translate(104.3 0) scale(0.731 1.000)">8</text><text transform="translate(113.3 0) scale(0.792 1.000)">c</text><text transform="translate(123.9 0) scale(0.627 1.000)">m</text><text transform="translate(137.4 -3) scale(0.769 0.920)">)</text></g>
<g transform="translate(657.6 816.7)"><text transform="translate(0.2 0) scale(0.755 1.000)">1</text><text transform="translate(10.6 0) scale(0.749 1.000)">7</text><text transform="translate(19.2 -6) scale(1.401 0.620)">-</text><text transform="translate(31.3 0) scale(0.755 1.000)">1</text><text transform="translate(42.1 1.4) scale(1.148 1.150)">/</text><text transform="translate(52.3 0) scale(0.767 1.000)">2</text><text transform="translate(59.5 -2.4) scale(1.071 1.080)" font-style="italic">″</text><text transform="translate(75.8 -3) scale(0.769 0.920)">(</text><text transform="translate(83.1 0) scale(0.775 1.000)">4</text><text transform="translate(93.5 0) scale(0.775 1.000)">4</text><text transform="translate(102.9 0) scale(1.234 1.000)">.</text><text transform="translate(114.2 0) scale(0.775 1.000)">4</text><text transform="translate(123.6 0) scale(0.792 1.000)">c</text><text transform="translate(134.3 0) scale(0.627 1.000)">m</text><text transform="translate(147.8 -3) scale(0.769 0.920)">)</text></g>
<g transform="translate(850.4 872)"><text transform="translate(0.2 0) scale(0.749 1.000)">7</text><text transform="translate(8.9 -6) scale(1.401 0.620)">-</text><text transform="translate(20.9 0) scale(0.755 1.000)">1</text><text transform="translate(31.8 1.4) scale(1.148 1.150)">/</text><text transform="translate(41.7 0) scale(0.775 1.000)">4</text><text transform="translate(49.2 -2.4) scale(1.071 1.080)" font-style="italic">″</text><text transform="translate(65.5 -3) scale(0.769 0.920)">(</text><text transform="translate(72.7 0) scale(0.755 1.000)">1</text><text transform="translate(83.5 0) scale(0.731 1.000)">8</text><text transform="translate(92.5 0) scale(1.234 1.000)">.</text><text transform="translate(103.8 0) scale(0.775 1.000)">4</text><text transform="translate(113.3 0) scale(0.792 1.000)">c</text><text transform="translate(123.9 0) scale(0.627 1.000)">m</text><text transform="translate(137.4 -3) scale(0.769 0.920)">)</text></g>
<g transform="translate(684 897)"><text transform="translate(0.5 0) scale(0.767 1.000)">2</text><text transform="translate(10.5 0) scale(0.755 1.000)">1</text><text transform="translate(19.2 -6) scale(1.401 0.620)">-</text><text transform="translate(31.3 0) scale(0.755 1.000)">1</text><text transform="translate(42.1 1.4) scale(1.148 1.150)">/</text><text transform="translate(52.5 0) scale(0.731 1.000)">8</text><text transform="translate(59.5 -2.4) scale(1.071 1.080)" font-style="italic">″</text><text transform="translate(75.8 -3) scale(0.769 0.920)">(</text><text transform="translate(83.1 0) scale(0.768 1.000)">5</text><text transform="translate(93.8 0) scale(0.732 1.000)">3</text><text transform="translate(102.9 0) scale(1.234 1.000)">.</text><text transform="translate(114.6 0) scale(0.714 1.000)">6</text><text transform="translate(123.6 0) scale(0.792 1.000)">c</text><text transform="translate(134.3 0) scale(0.627 1.000)">m</text><text transform="translate(147.8 -3) scale(0.769 0.920)">)</text></g>
<g transform="translate(193.9 914.7)"><text transform="translate(0.5 0) scale(0.767 1.000)">2</text><text transform="translate(7.7 -2.4) scale(1.071 1.080)" font-style="italic">″</text><text transform="translate(24 -3) scale(0.769 0.920)">(</text><text transform="translate(31.3 0) scale(0.768 1.000)">5</text><text transform="translate(40.7 0) scale(1.234 1.000)">.</text><text transform="translate(52 0) scale(0.755 1.000)">1</text><text transform="translate(61.5 0) scale(0.792 1.000)">c</text><text transform="translate(72.1 0) scale(0.627 1.000)">m</text><text transform="translate(85.6 -3) scale(0.769 0.920)">)</text></g>
<g transform="translate(1166.4 934)"><text transform="translate(0.2 0) scale(0.755 1.000)">1</text><text transform="translate(10.6 0) scale(0.775 1.000)">4</text><text transform="translate(19.2 -6) scale(1.401 0.620)">-</text><text transform="translate(31.6 0) scale(0.732 1.000)">3</text><text transform="translate(42.1 1.4) scale(1.148 1.150)">/</text><text transform="translate(52.5 0) scale(0.731 1.000)">8</text><text transform="translate(59.5 -2.4) scale(1.071 1.080)" font-style="italic">″</text><text transform="translate(75.8 -3) scale(0.769 0.920)">(</text><text transform="translate(83.4 0) scale(0.732 1.000)">3</text><text transform="translate(93.9 0) scale(0.714 1.000)">6</text><text transform="translate(102.9 0) scale(1.234 1.000)">.</text><text transform="translate(114.1 0) scale(0.768 1.000)">5</text><text transform="translate(123.6 0) scale(0.792 1.000)">c</text><text transform="translate(134.3 0) scale(0.627 1.000)">m</text><text transform="translate(147.8 -3) scale(0.769 0.920)">)</text></g>
<g transform="translate(746.6 1049.3)"><text transform="translate(0.2 0) scale(0.755 1.000)">1</text><text transform="translate(11 0) scale(0.731 1.000)">8</text><text transform="translate(19.2 -6) scale(1.401 0.620)">-</text><text transform="translate(31.3 0) scale(0.755 1.000)">1</text><text transform="translate(42.1 1.4) scale(1.148 1.150)">/</text><text transform="translate(52.5 0) scale(0.731 1.000)">8</text><text transform="translate(59.5 -2.4) scale(1.071 1.080)" font-style="italic">″</text><text transform="translate(75.8 -3) scale(0.769 0.920)">(</text><text transform="translate(83.1 0) scale(0.775 1.000)">4</text><text transform="translate(93.9 0) scale(0.714 1.000)">6</text><text transform="translate(102.9 0) scale(0.792 1.000)">c</text><text transform="translate(113.6 0) scale(0.627 1.000)">m</text><text transform="translate(127.1 -3) scale(0.769 0.920)">)</text></g>
<g transform="translate(1477 1057.6)"><text transform="translate(0.5 0) scale(0.767 1.000)">2</text><text transform="translate(10.6 0) scale(0.768 1.000)">5</text><text transform="translate(19.2 -6) scale(1.401 0.620)">-</text><text transform="translate(31.3 0) scale(0.755 1.000)">1</text><text transform="translate(42.1 1.4) scale(1.148 1.150)">/</text><text transform="translate(52.3 0) scale(0.767 1.000)">2</text><text transform="translate(59.5 -2.4) scale(1.071 1.080)" font-style="italic">″</text><text transform="translate(75.8 -3) scale(0.769 0.920)">(</text><text transform="translate(83.6 0) scale(0.714 1.000)">6</text><text transform="translate(93.5 0) scale(0.775 1.000)">4</text><text transform="translate(102.9 0) scale(1.234 1.000)">.</text><text transform="translate(114.2 0) scale(0.749 1.000)">7</text><text transform="translate(123.6 0) scale(0.792 1.000)">c</text><text transform="translate(134.3 0) scale(0.627 1.000)">m</text><text transform="translate(147.8 -3) scale(0.769 0.920)">)</text></g>
<g transform="translate(1170.3 1138.4)"><text transform="translate(0.9 0) scale(0.714 1.000)">9</text><text transform="translate(8.9 -6) scale(1.401 0.620)">-</text><text transform="translate(20.9 0) scale(0.768 1.000)">5</text><text transform="translate(31.8 1.4) scale(1.148 1.150)">/</text><text transform="translate(42.1 0) scale(0.731 1.000)">8</text><text transform="translate(49.2 -2.4) scale(1.071 1.080)" font-style="italic">″</text><text transform="translate(65.5 -3) scale(0.769 0.920)">(</text><text transform="translate(73 0) scale(0.767 1.000)">2</text><text transform="translate(83.1 0) scale(0.775 1.000)">4</text><text transform="translate(92.5 0) scale(1.234 1.000)">.</text><text transform="translate(103.8 0) scale(0.775 1.000)">4</text><text transform="translate(113.3 0) scale(0.792 1.000)">c</text><text transform="translate(123.9 0) scale(0.627 1.000)">m</text><text transform="translate(137.4 -3) scale(0.769 0.920)">)</text></g>
<g transform="translate(833.3 1185.1)"><text transform="translate(0.2 0) scale(0.755 1.000)">1</text><text transform="translate(10.6 0) scale(0.749 1.000)">7</text><text transform="translate(19.2 -6) scale(1.401 0.620)">-</text><text transform="translate(31.3 0) scale(0.768 1.000)">5</text><text transform="translate(42.1 1.4) scale(1.148 1.150)">/</text><text transform="translate(52.5 0) scale(0.731 1.000)">8</text><text transform="translate(59.5 -2.4) scale(1.071 1.080)" font-style="italic">″</text><text transform="translate(75.8 -3) scale(0.769 0.920)">(</text><text transform="translate(83.1 0) scale(0.775 1.000)">4</text><text transform="translate(93.5 0) scale(0.775 1.000)">4</text><text transform="translate(102.9 0) scale(1.234 1.000)">.</text><text transform="translate(114.2 0) scale(0.749 1.000)">7</text><text transform="translate(123.6 0) scale(0.792 1.000)">c</text><text transform="translate(134.3 0) scale(0.627 1.000)">m</text><text transform="translate(147.8 -3) scale(0.769 0.920)">)</text></g>
<g transform="translate(634 1333.5)"><text transform="translate(0.2 0) scale(0.755 1.000)">1</text><text transform="translate(10.6 0) scale(0.749 1.000)">7</text><text transform="translate(19.2 -6) scale(1.401 0.620)">-</text><text transform="translate(31.3 0) scale(0.755 1.000)">1</text><text transform="translate(42.1 1.4) scale(1.148 1.150)">/</text><text transform="translate(52.3 0) scale(0.767 1.000)">2</text><text transform="translate(59.5 -2.4) scale(1.071 1.080)" font-style="italic">″</text><text transform="translate(75.8 -3) scale(0.769 0.920)">(</text><text transform="translate(83.1 0) scale(0.775 1.000)">4</text><text transform="translate(93.5 0) scale(0.775 1.000)">4</text><text transform="translate(102.9 0) scale(1.234 1.000)">.</text><text transform="translate(114.2 0) scale(0.775 1.000)">4</text><text transform="translate(123.6 0) scale(0.792 1.000)">c</text><text transform="translate(134.3 0) scale(0.627 1.000)">m</text><text transform="translate(147.8 -3) scale(0.769 0.920)">)</text></g>
<g transform="translate(1163.2 1389.8)"><text transform="translate(0.7 0) scale(0.731 1.000)">8</text><text transform="translate(7.7 -2.4) scale(1.071 1.080)" font-style="italic">″</text><text transform="translate(24 -3) scale(0.769 0.920)">(</text><text transform="translate(31.6 0) scale(0.767 1.000)">2</text><text transform="translate(42 0) scale(0.748 1.000)">0</text><text transform="translate(51.1 0) scale(1.234 1.000)">.</text><text transform="translate(62.7 0) scale(0.732 1.000)">3</text><text transform="translate(71.8 0) scale(0.792 1.000)">c</text><text transform="translate(82.5 0) scale(0.627 1.000)">m</text><text transform="translate(96 -3) scale(0.769 0.920)">)</text></g>
<g transform="translate(1640 1391.1)"><text transform="translate(0.6 0) scale(0.732 1.000)">3</text><text transform="translate(10.9 0) scale(0.767 1.000)">2</text><text transform="translate(18.1 -2.4) scale(1.071 1.080)" font-style="italic">″</text></g>
<g transform="translate(273.8 1433.7)"><text transform="translate(0.5 0) scale(0.767 1.000)">2</text><text transform="translate(7.7 -2.4) scale(1.071 1.080)" font-style="italic">″</text><text transform="translate(24 -3) scale(0.769 0.920)">(</text><text transform="translate(31.3 0) scale(0.768 1.000)">5</text><text transform="translate(40.7 0) scale(1.234 1.000)">.</text><text transform="translate(52 0) scale(0.755 1.000)">1</text><text transform="translate(61.5 0) scale(0.792 1.000)">c</text><text transform="translate(72.1 0) scale(0.627 1.000)">m</text><text transform="translate(85.6 -3) scale(0.769 0.920)">)</text></g>
<g transform="translate(250.5 1492)"><text transform="translate(0.5 0) scale(0.767 1.000)">2</text><text transform="translate(8.9 -6) scale(1.401 0.620)">-</text><text transform="translate(21.3 0) scale(0.732 1.000)">3</text><text transform="translate(31.8 1.4) scale(1.148 1.150)">/</text><text transform="translate(42.1 0) scale(0.731 1.000)">8</text><text transform="translate(49.2 -2.4) scale(1.071 1.080)" font-style="italic">″</text><text transform="translate(65.5 -3) scale(0.769 0.920)">(</text><text transform="translate(73.2 0) scale(0.714 1.000)">6</text><text transform="translate(82.2 0) scale(0.792 1.000)">c</text><text transform="translate(92.9 0) scale(0.627 1.000)">m</text><text transform="translate(106.3 -3) scale(0.769 0.920)">)</text></g>
<g transform="translate(1190.3 1519.2)"><text transform="translate(0.9 0) scale(0.714 1.000)">9</text><text transform="translate(8.9 -6) scale(1.401 0.620)">-</text><text transform="translate(20.9 0) scale(0.768 1.000)">5</text><text transform="translate(31.8 1.4) scale(1.148 1.150)">/</text><text transform="translate(42.1 0) scale(0.731 1.000)">8</text><text transform="translate(49.2 -2.4) scale(1.071 1.080)" font-style="italic">″</text><text transform="translate(65.5 -3) scale(0.769 0.920)">(</text><text transform="translate(73 0) scale(0.767 1.000)">2</text><text transform="translate(83.1 0) scale(0.775 1.000)">4</text><text transform="translate(92.5 0) scale(1.234 1.000)">.</text><text transform="translate(103.8 0) scale(0.775 1.000)">4</text><text transform="translate(113.3 0) scale(0.792 1.000)">c</text><text transform="translate(123.9 0) scale(0.627 1.000)">m</text><text transform="translate(137.4 -3) scale(0.769 0.920)">)</text></g>
<g transform="translate(704.6 1648.4)"><text transform="translate(0.5 0) scale(0.767 1.000)">2</text><text transform="translate(10.5 0) scale(0.755 1.000)">1</text><text transform="translate(18.1 -2.4) scale(1.071 1.080)" font-style="italic">″</text><text transform="translate(34.4 -3) scale(0.769 0.920)">(</text><text transform="translate(41.6 0) scale(0.768 1.000)">5</text><text transform="translate(52.4 0) scale(0.732 1.000)">3</text><text transform="translate(61.4 0) scale(1.234 1.000)">.</text><text transform="translate(72.7 0) scale(0.768 1.000)">5</text><text transform="translate(82.2 0) scale(0.792 1.000)">c</text><text transform="translate(92.9 0) scale(0.627 1.000)">m</text><text transform="translate(106.3 -3) scale(0.769 0.920)">)</text></g>
<g transform="translate(1207.2 1692.6)"><text transform="translate(0.2 0) scale(0.755 1.000)">1</text><text transform="translate(10.9 0) scale(0.748 1.000)">0</text><text transform="translate(18.1 -2.4) scale(1.071 1.080)" font-style="italic">″</text><text transform="translate(34.4 -3) scale(0.769 0.920)">(</text><text transform="translate(42 0) scale(0.767 1.000)">2</text><text transform="translate(52 0) scale(0.768 1.000)">5</text><text transform="translate(61.4 0) scale(1.234 1.000)">.</text><text transform="translate(72.8 0) scale(0.775 1.000)">4</text><text transform="translate(82.2 0) scale(0.792 1.000)">c</text><text transform="translate(92.9 0) scale(0.627 1.000)">m</text><text transform="translate(106.3 -3) scale(0.769 0.920)">)</text></g>
<g transform="translate(917.7 1762.9)"><text transform="translate(0.5 0) scale(0.767 1.000)">2</text><text transform="translate(7.7 -2.4) scale(1.071 1.080)" font-style="italic">″</text><text transform="translate(24 -3) scale(0.769 0.920)">(</text><text transform="translate(31.3 0) scale(0.768 1.000)">5</text><text transform="translate(40.7 0) scale(1.234 1.000)">.</text><text transform="translate(52 0) scale(0.755 1.000)">1</text><text transform="translate(61.5 0) scale(0.792 1.000)">c</text><text transform="translate(72.1 0) scale(0.627 1.000)">m</text><text transform="translate(85.6 -3) scale(0.769 0.920)">)</text></g>
<g transform="translate(1126.4 1766.4)"><text transform="translate(0.5 0) scale(0.767 1.000)">2</text><text transform="translate(7.7 -2.4) scale(1.071 1.080)" font-style="italic">″</text><text transform="translate(24 -3) scale(0.769 0.920)">(</text><text transform="translate(31.3 0) scale(0.768 1.000)">5</text><text transform="translate(40.7 0) scale(1.234 1.000)">.</text><text transform="translate(52 0) scale(0.755 1.000)">1</text><text transform="translate(61.5 0) scale(0.792 1.000)">c</text><text transform="translate(72.1 0) scale(0.627 1.000)">m</text><text transform="translate(85.6 -3) scale(0.769 0.920)">)</text></g>
</g>
</svg></body></html>
